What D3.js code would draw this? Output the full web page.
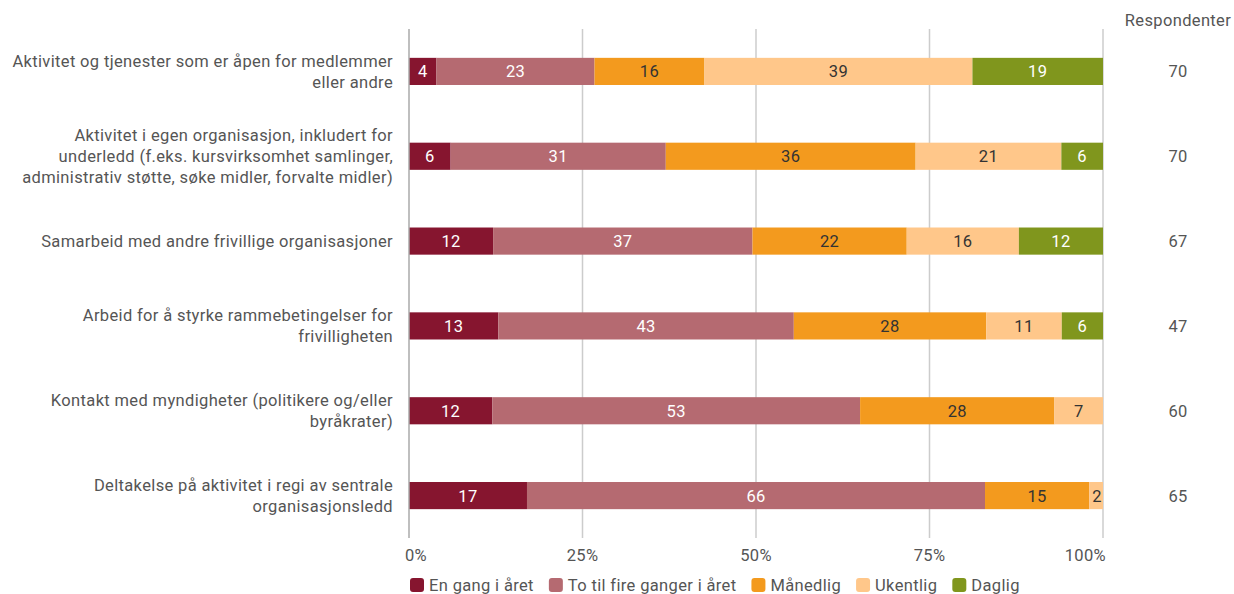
<!DOCTYPE html>
<html><head><meta charset="utf-8">
<script src="https://cdn.jsdelivr.net/npm/d3@7"></script>
<style>
body{margin:0;background:#fff;}
svg{display:block;font-family:Roboto,"Noto Sans",sans-serif;}
svg text{letter-spacing:0.35px;}
</style></head>
<body><svg id="c" width="1234" height="594"></svg>
<script>
const categories = [
  ["Aktivitet og tjenester som er åpen for medlemmer", "eller andre"],
  ["Aktivitet i egen organisasjon, inkludert for", "underledd (f.eks. kursvirksomhet samlinger,", "administrativ støtte, søke midler, forvalte midler)"],
  ["Samarbeid med andre frivillige organisasjoner"],
  ["Arbeid for å styrke rammebetingelser for", "frivilligheten"],
  ["Kontakt med myndigheter (politikere og/eller", "byråkrater)"],
  ["Deltakelse på aktivitet i regi av sentrale", "organisasjonsledd"]
];
const seriesNames = ["En gang i året", "To til fire ganger i året", "Månedlig", "Ukentlig", "Daglig"];
const enGang   = [4, 6, 12, 13, 12, 17];
const toTilFire= [23, 31, 37, 43, 53, 66];
const maanedlig= [16, 36, 22, 28, 28, 15];
const ukentlig = [39, 21, 16, 11, 7, 2];
const daglig   = [19, 6, 12, 6, 0, 0];
const respondenter = [70, 70, 67, 47, 60, 65];
const tickLabels = ["0%", "25%", "50%", "75%", "100%"];
const colors = ["#86152f", "#b56a71", "#f39a1e", "#ffc78a", "#80961d"];
const labelColors = ["#fff", "#fff", "#333", "#333", "#fff"];

const seriesArrays = [enGang, toTilFire, maanedlig, ukentlig, daglig];
const rows = categories.map((c, i) => {
  const r = {idx: i};
  seriesNames.forEach((s, j) => r[s] = seriesArrays[j][i]);
  return r;
});

const FS = 16.5;
const svg = d3.select("#c");
const pLeft = 409, pRight = 1103, pTop = 29, pBottom = 538;
const x = d3.scaleLinear().domain([0, 1]).range([pLeft, pRight]);
const y = d3.scaleBand().domain(d3.range(categories.length)).range([pTop, pBottom]).paddingInner(0.68).paddingOuter(0.34);

const stack = d3.stack().keys(seriesNames).offset(d3.stackOffsetExpand);
const stacked = stack(rows);

// gridlines
svg.append("g").selectAll("line").data([0.25, 0.5, 0.75, 1]).join("line")
  .attr("x1", d => x(d)).attr("x2", d => x(d))
  .attr("y1", pTop).attr("y2", pBottom)
  .attr("stroke", "#cccccc").attr("stroke-width", 1.5);

// bars
const g = svg.append("g");
stacked.forEach((layer, j) => {
  const lg = g.append("g");
  lg.selectAll("rect").data(layer).join("rect")
    .attr("x", d => x(d[0]))
    .attr("width", d => Math.max(0, x(d[1]) - x(d[0])))
    .attr("y", (d, i) => y(i))
    .attr("height", y.bandwidth())
    .attr("fill", colors[j]);
  lg.selectAll("text").data(layer.filter(d => d.data[seriesNames[j]] > 0)).join("text")
    .attr("x", d => (x(d[0]) + x(d[1])) / 2 + (x(d[1]) - x(d[0]) < 14 ? 1 : 0))
    .attr("y", d => y(d.data.idx) + y.bandwidth() / 2)
    .attr("dy", "0.36em")
    .attr("text-anchor", "middle")
    .attr("font-size", FS)
    .attr("fill", labelColors[j])
    .text(d => d.data[seriesNames[j]]);
});

// left axis line
svg.append("line").attr("x1", pLeft).attr("x2", pLeft).attr("y1", pTop).attr("y2", pBottom)
  .attr("stroke", "#aaaaaa").attr("stroke-width", 1.5);

// category labels
const lineH = 21;
categories.forEach((lines, i) => {
  const cy = y(i) + y.bandwidth() / 2;
  const t = svg.append("text").attr("text-anchor", "end").attr("font-size", FS).attr("fill", "#555");
  lines.forEach((ln, k) => {
    t.append("tspan").attr("x", 393)
      .attr("y", cy + (k - (lines.length - 1) / 2) * lineH)
      .attr("dy", "0.36em").text(ln);
  });
});

// x tick labels
const tickVals = [0, 0.25, 0.5, 0.75, 1];
svg.append("g").selectAll("text").data(tickVals).join("text")
  .attr("x", (d, i) => i === 0 ? x(d) - 4 : i === tickVals.length - 1 ? x(d) + 3 : x(d))
  .attr("y", 555).attr("dy", "0.36em")
  .attr("text-anchor", (d, i) => i === 0 ? "start" : i === tickVals.length - 1 ? "end" : "middle")
  .attr("font-size", FS).attr("fill", "#555")
  .text((d, i) => tickLabels[i]);

// respondenter
svg.append("text").attr("x", 1178).attr("y", 20).attr("dy", "0.36em")
  .attr("text-anchor", "middle").attr("font-size", FS).attr("fill", "#555").text("Respondenter");
svg.append("g").selectAll("text").data(respondenter).join("text")
  .attr("x", 1178).attr("y", (d, i) => y(i) + y.bandwidth() / 2).attr("dy", "0.36em")
  .attr("text-anchor", "middle").attr("font-size", FS).attr("fill", "#555").text(d => d);

// legend
const legend = svg.append("g").attr("transform", "translate(410,585)");
let lx = 0;
seriesNames.forEach((s, j) => {
  const item = legend.append("g").attr("transform", `translate(${lx},0)`);
  item.append("rect").attr("x", 0).attr("y", -7).attr("width", 14).attr("height", 14)
    .attr("rx", 3).attr("fill", colors[j]);
  const t = item.append("text").attr("x", 19).attr("dy", "0.34em")
    .attr("font-size", FS).attr("fill", "#555").text(s);
  lx += 19 + t.node().getComputedTextLength() + 15;
});
</script></body></html>
